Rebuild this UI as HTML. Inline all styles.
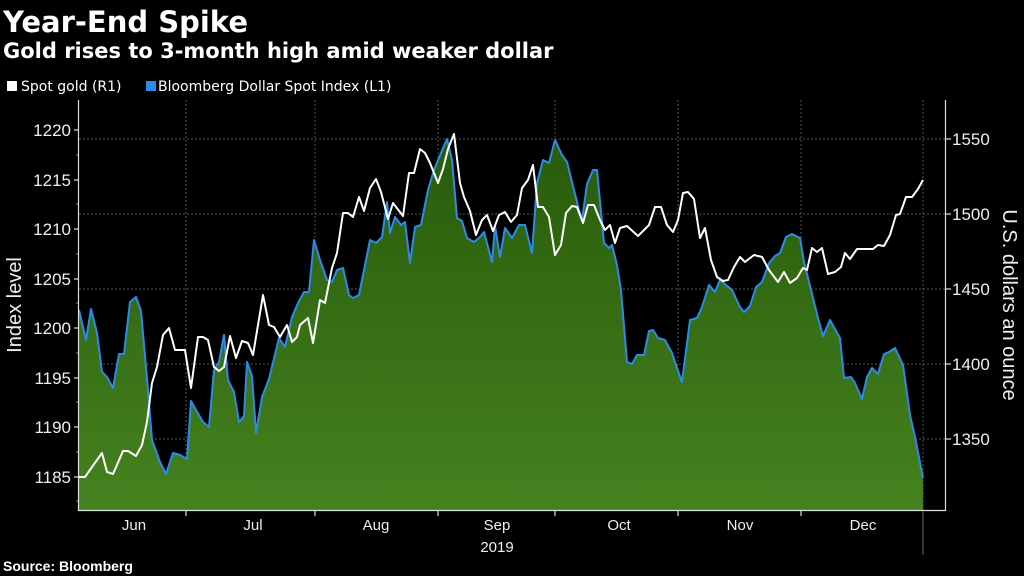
<!DOCTYPE html>
<html><head><meta charset="utf-8"><style>
html,body{margin:0;padding:0;background:#000;}
svg{display:block;font-family:"Liberation Sans","DejaVu Sans",sans-serif;}
</style></head><body>
<svg width="1024" height="576" viewBox="0 0 1024 576" xmlns="http://www.w3.org/2000/svg">
<defs>
<linearGradient id="gf" gradientUnits="userSpaceOnUse" x1="0" y1="130" x2="0" y2="510">
<stop offset="0" stop-color="#285a0a"/><stop offset="1" stop-color="#45821f"/>
</linearGradient>
</defs>
<rect width="1024" height="576" fill="#000"/>
<text x="3" y="32" fill="#fff" font-size="29" font-weight="bold" font-family="DejaVu Sans, sans-serif">Year-End Spike</text>
<text x="3" y="58" fill="#fff" font-size="21" font-weight="bold" font-family="DejaVu Sans, sans-serif">Gold rises to 3-month high amid weaker dollar</text>
<rect x="7" y="81" width="10" height="10" fill="#fff"/>
<text x="21" y="91" fill="#fff" font-size="14" font-family="DejaVu Sans, sans-serif">Spot gold (R1)</text>
<rect x="146" y="81" width="10" height="10" fill="#2a8cf0"/>
<text x="158" y="91" fill="#fff" font-size="14" font-family="DejaVu Sans, sans-serif">Bloomberg Dollar Spot Index (L1)</text>

<g stroke="#555" stroke-width="1" stroke-dasharray="2,2">
<line x1="79" y1="139" x2="945" y2="139"/><line x1="79" y1="214" x2="945" y2="214"/>
<line x1="79" y1="289" x2="945" y2="289"/><line x1="79" y1="364" x2="945" y2="364"/>
<line x1="79" y1="439" x2="945" y2="439"/>
<line x1="186" y1="100" x2="186" y2="510"/><line x1="315" y1="100" x2="315" y2="510"/>
<line x1="438" y1="100" x2="438" y2="510"/><line x1="555" y1="100" x2="555" y2="510"/>
<line x1="678" y1="100" x2="678" y2="510"/><line x1="801" y1="100" x2="801" y2="510"/>
<line x1="923" y1="100" x2="923" y2="510"/>
</g>

<path fill="url(#gf)" d="M79,510 L79,310 86,340 91,309 97,333 102,372 107,377 113,388 119,354 124,354 130,302 136,297 141,311 147,378 152,440 160,462 166,474 173,453 180,455 187,459 191,401 196,410 203,422 209,427 214,370 219,362 224,335 228,380 234,392 239,422 244,416 247,362 252,376 256,433 262,397 269,379 279,338 285,347 292,317 298,303 304,292 309,292 314,240 320,260 327,280 332,282 337,270 343,268 349,295 353,298 359,295 370,240 376,243 382,237 387,202 390,233 395,217 401,225 405,222 410,263 415,227 421,225 428,190 434,170 443,148 447,139 452,160 457,218 462,221 467,238 474,242 479,238 484,232 492,262 495,226 500,257 505,228 512,238 519,225 525,225 532,253 537,183 543,160 549,163 555,140 562,155 567,162 573,186 579,210 582,220 587,184 593,170 597,170 604,243 609,248 612,245 617,265 621,290 627,362 632,364 637,355 644,355 649,331 653,330 658,338 665,340 672,353 677,368 682,382 690,320 697,318 702,307 709,285 715,292 720,280 732,290 740,307 744,312 750,306 756,287 762,282 769,263 775,256 780,253 786,237 792,234 800,238 804,262 811,290 818,318 823,336 830,320 840,338 844,378 851,377 855,383 862,399 867,377 872,368 878,374 884,354 889,352 895,348 903,365 910,415 915,437 923,478 L923,510 Z"/>
<polyline fill="none" stroke="#2a8ce8" stroke-width="2" stroke-linejoin="round" points="79,310 86,340 91,309 97,333 102,372 107,377 113,388 119,354 124,354 130,302 136,297 141,311 147,378 152,440 160,462 166,474 173,453 180,455 187,459 191,401 196,410 203,422 209,427 214,370 219,362 224,335 228,380 234,392 239,422 244,416 247,362 252,376 256,433 262,397 269,379 279,338 285,347 292,317 298,303 304,292 309,292 314,240 320,260 327,280 332,282 337,270 343,268 349,295 353,298 359,295 370,240 376,243 382,237 387,202 390,233 395,217 401,225 405,222 410,263 415,227 421,225 428,190 434,170 443,148 447,139 452,160 457,218 462,221 467,238 474,242 479,238 484,232 492,262 495,226 500,257 505,228 512,238 519,225 525,225 532,253 537,183 543,160 549,163 555,140 562,155 567,162 573,186 579,210 582,220 587,184 593,170 597,170 604,243 609,248 612,245 617,265 621,290 627,362 632,364 637,355 644,355 649,331 653,330 658,338 665,340 672,353 677,368 682,382 690,320 697,318 702,307 709,285 715,292 720,280 732,290 740,307 744,312 750,306 756,287 762,282 769,263 775,256 780,253 786,237 792,234 800,238 804,262 811,290 818,318 823,336 830,320 840,338 844,378 851,377 855,383 862,399 867,377 872,368 878,374 884,354 889,352 895,348 903,365 910,415 915,437 923,478"/>
<polyline fill="none" stroke="#fff" stroke-width="2" stroke-linejoin="round" points="79,477 85,477 92,467 102,453 107,472 113,474 123,451 128,451 136,456 142,445 147,422 152,383 157,367 163,335 169,328 175,350 185,350 191,388 198,337 203,337 208,340 214,367 219,371 224,367 230,336 236,358 242,341 248,343 253,355 263,295 269,325 274,327 280,337 287,325 292,342 297,337 300,325 308,318 313,343 320,300 325,303 332,268 337,253 343,213 348,213 353,217 359,197 364,211 370,188 376,179 381,192 388,219 393,203 403,216 409,173 414,173 420,149 425,153 430,163 438,183 443,169 448,149 454,134 460,183 464,197 470,211 476,235 482,220 487,215 493,231 499,215 505,212 511,222 517,215 522,188 528,180 533,165 538,207 543,207 549,217 555,255 561,245 566,213 572,206 577,207 583,223 588,205 594,205 600,220 605,230 610,225 615,243 620,228 627,226 638,236 649,225 655,207 661,207 667,225 673,232 678,220 683,193 688,192 694,199 700,238 705,228 711,260 717,277 723,281 728,280 734,267 740,257 745,262 754,255 762,257 769,270 778,282 784,272 790,283 797,278 803,268 807,270 812,248 817,252 822,248 828,274 835,272 841,267 845,253 850,259 857,249 873,249 878,245 884,246 890,235 896,215 900,214 906,197 912,197 918,189 923,180"/>

<g stroke="#ddd" stroke-width="1.2">
<line x1="78.5" y1="100" x2="78.5" y2="511"/>
<line x1="945.5" y1="100" x2="945.5" y2="511"/>
<line x1="78" y1="510.5" x2="946" y2="510.5"/>
<line x1="74" y1="130" x2="78" y2="130"/><line x1="74" y1="180" x2="78" y2="180"/><line x1="74" y1="229" x2="78" y2="229"/><line x1="74" y1="279" x2="78" y2="279"/><line x1="74" y1="328" x2="78" y2="328"/><line x1="74" y1="378" x2="78" y2="378"/><line x1="74" y1="427" x2="78" y2="427"/><line x1="74" y1="477" x2="78" y2="477"/>
<line x1="946" y1="139" x2="951" y2="139"/><line x1="946" y1="214" x2="951" y2="214"/><line x1="946" y1="289" x2="951" y2="289"/><line x1="946" y1="364" x2="951" y2="364"/><line x1="946" y1="439" x2="951" y2="439"/>
<line x1="186" y1="511" x2="186" y2="516"/><line x1="315" y1="511" x2="315" y2="516"/><line x1="438" y1="511" x2="438" y2="516"/><line x1="555" y1="511" x2="555" y2="516"/><line x1="678" y1="511" x2="678" y2="516"/><line x1="801" y1="511" x2="801" y2="516"/>
<line x1="923" y1="511" x2="923" y2="555" stroke="#555"/>
</g>
<g stroke="#888" stroke-width="1">
<line x1="76" y1="155" x2="78" y2="155"/><line x1="76" y1="204" x2="78" y2="204"/><line x1="76" y1="254" x2="78" y2="254"/><line x1="76" y1="303" x2="78" y2="303"/><line x1="76" y1="353" x2="78" y2="353"/><line x1="76" y1="402" x2="78" y2="402"/><line x1="76" y1="452" x2="78" y2="452"/><line x1="76" y1="501" x2="78" y2="501"/>
</g>
<g fill="#eee" font-size="17" text-anchor="end">
<text x="71" y="136">1220</text><text x="71" y="186">1215</text><text x="71" y="235">1210</text><text x="71" y="285">1205</text><text x="71" y="334">1200</text><text x="71" y="384">1195</text><text x="71" y="433">1190</text><text x="71" y="483">1185</text>
</g>
<g fill="#eee" font-size="17">
<text x="952" y="145">1550</text><text x="952" y="220">1500</text><text x="952" y="295">1450</text><text x="952" y="370">1400</text><text x="952" y="445">1350</text>
</g>
<text transform="translate(21,305) rotate(-90)" fill="#eee" font-size="20" text-anchor="middle">Index level</text>
<text transform="translate(1003,305) rotate(90)" fill="#eee" font-size="20" text-anchor="middle">U.S. dollars an ounce</text>
<g fill="#eee" font-size="15" text-anchor="middle">
<text x="134" y="530">Jun</text><text x="253" y="530">Jul</text><text x="376" y="530">Aug</text><text x="497" y="530">Sep</text><text x="619" y="530">Oct</text><text x="740" y="530">Nov</text><text x="863" y="530">Dec</text>
<text x="497" y="552">2019</text>
</g>
<text x="3" y="571" fill="#fff" font-size="14" font-weight="bold">Source: Bloomberg</text>
</svg>
</body></html>
